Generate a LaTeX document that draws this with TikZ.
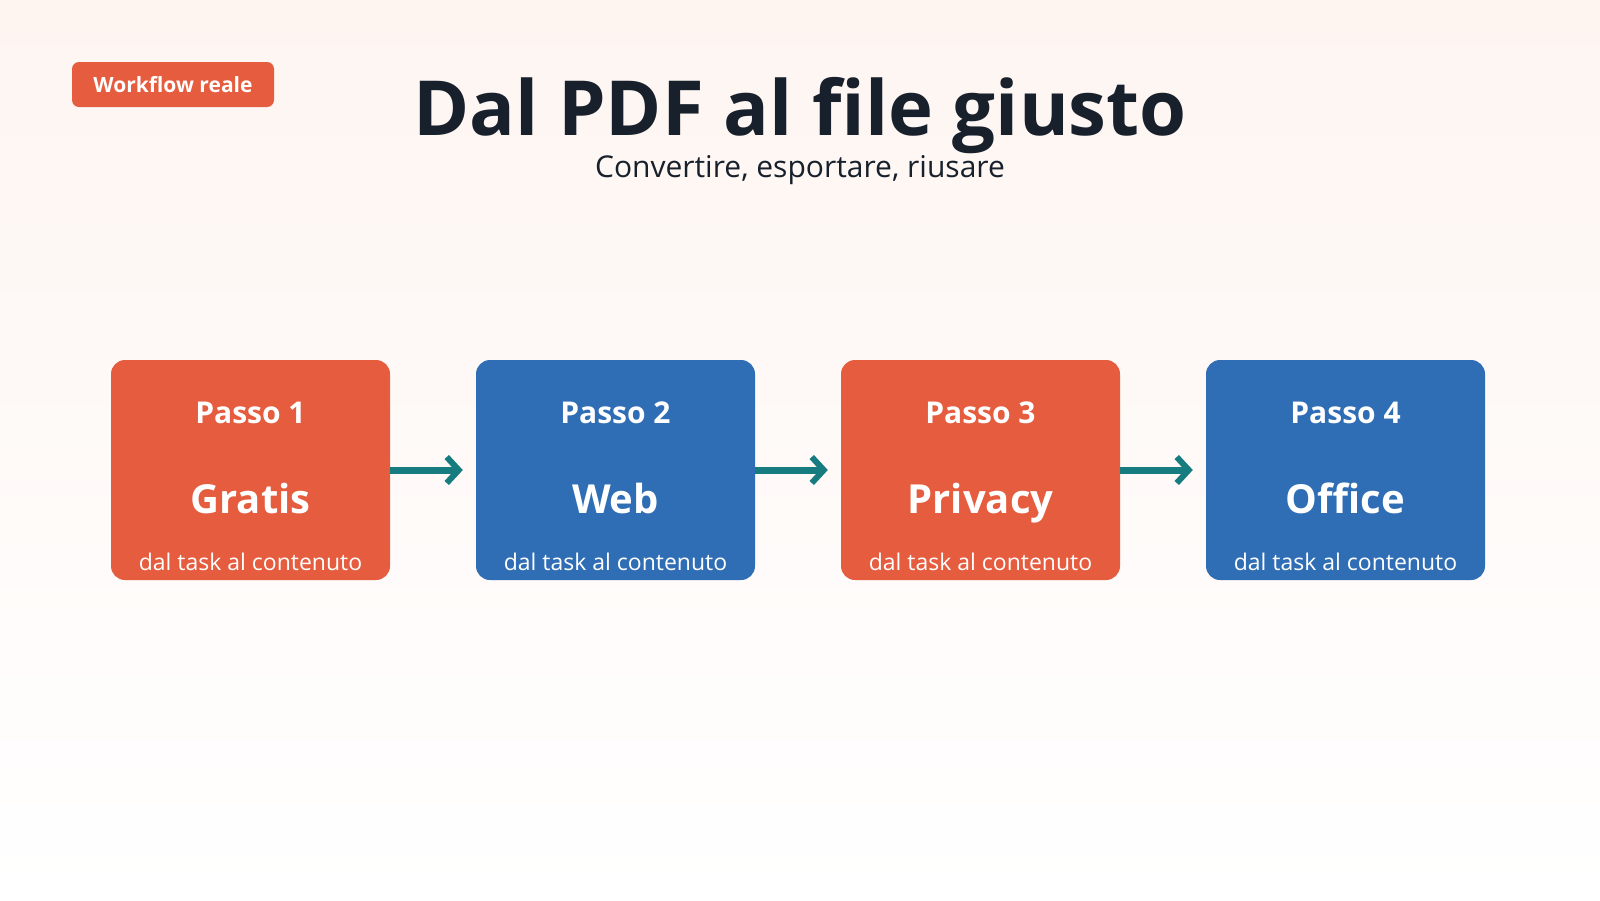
\documentclass[tikz,border=0pt]{standalone}
\usepackage{fontspec}
\setmainfont{Open Sans}
\usetikzlibrary{arrows.meta}
\definecolor{orng}{HTML}{E55C3E}
\definecolor{blu}{HTML}{2F6DB5}
\definecolor{teal}{HTML}{167C80}
\definecolor{ink}{HTML}{17202B}
\definecolor{bgtop}{HTML}{FEF5F1}
\begin{document}
\begin{tikzpicture}[x=1pt,y=-1pt,
  stepbox/.style={rounded corners=14pt,minimum width=279pt,minimum height=220pt,inner sep=0pt},
  lbl/.style={text=white,font=\bfseries\fontsize{30}{34}\selectfont},
  big/.style={text=white,font=\bfseries\fontsize{40}{46}\selectfont},
  sm/.style={text=white,font=\fontsize{23}{27}\selectfont},
  conn/.style={teal,line width=7pt,-{Straight Barb[length=12pt,width=26pt,line width=6pt]}}]
\shade[top color=bgtop,bottom color=white] (0,0) rectangle (1600,900);
\useasboundingbox (0,0) rectangle (1600,900);
\node[fill=orng,rounded corners=7pt,minimum width=202pt,minimum height=45pt,text=white,font=\bfseries\fontsize{21}{25}\selectfont] (badge) at (173,84.5) {Workflow reale};
\node[anchor=base,text=ink,font=\bfseries\fontsize{76}{80}\selectfont] (title) at (800,135) {Dal PDF al file giusto};
\node[anchor=base,text=ink,font=\fontsize{30}{34}\selectfont] (sub) at (800,177) {Convertire, esportare, riusare};
\foreach \i/\x/\c/\w in {1/250.5/orng/Gratis,2/615.5/blu/Web,3/980.5/orng/Privacy,4/1345.5/blu/Office}{
  \node[stepbox,fill=\c] (s\i) at (\x,470) {};
  \node[lbl,anchor=base] (p\i) at (\x,423) {Passo \i};
  \node[big,anchor=base] (w\i) at (\x,513) {\w};
  \node[sm,anchor=base] (d\i) at (\x,570) {dal task al contenuto};
}
\draw[conn] (s1.east) -- ([xshift=-13pt]s2.west);
\draw[conn] (s2.east) -- ([xshift=-13pt]s3.west);
\draw[conn] (s3.east) -- ([xshift=-13pt]s4.west);
\end{tikzpicture}
\end{document}
